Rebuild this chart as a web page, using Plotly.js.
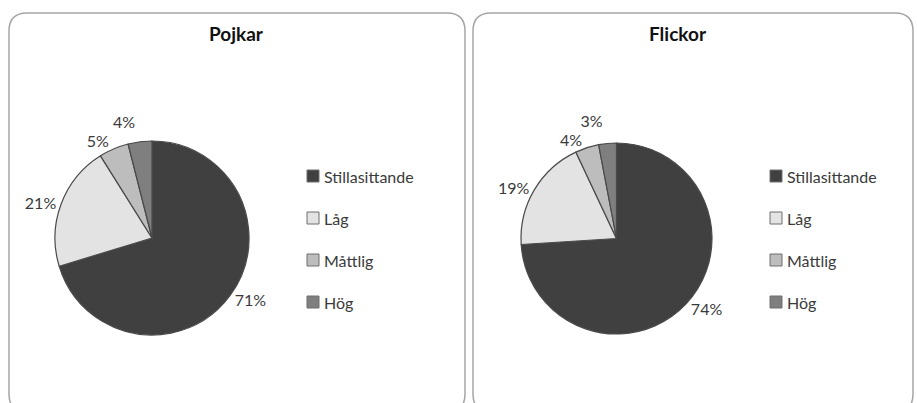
<!DOCTYPE html>
<html>
<head>
<meta charset="utf-8">
<script src="https://cdn.plot.ly/plotly-3.0.1.min.js"></script>
<style>html,body{margin:0;padding:0;background:#fff;}#chart{width:917px;height:403px;} .textline{display:none;}</style>
</head>
<body>
<div id="chart"></div>
<script>
// ---- data ----
const categories = ["Stillasittande", "Låg", "Måttlig", "Hög"];
const pojkarValues = [71, 21, 5, 4];
const flickorValues = [74, 19, 4, 3];
const panelTitles = ["Pojkar", "Flickor"];
const sliceColors = ["#404040", "#e3e3e3", "#bdbdbd", "#7f7f7f"];

// ---- layout helpers (pixel -> paper) ----
const W = 917, H = 403;
const px = x => x / W;
const py = y => 1 - y / H;

function roundRectPath(x0, y0, x1, y1, r) {
  const p = (x, y) => px(x) + "," + py(y);
  return "M" + p(x0 + r, y0) + " L" + p(x1 - r, y0) +
    " Q" + p(x1, y0) + " " + p(x1, y0 + r) +
    " L" + p(x1, y1 - r) + " Q" + p(x1, y1) + " " + p(x1 - r, y1) +
    " L" + p(x0 + r, y1) + " Q" + p(x0, y1) + " " + p(x0, y1 - r) +
    " L" + p(x0, y0 + r) + " Q" + p(x0, y0) + " " + p(x0 + r, y0) + " Z";
}

const panels = [
  { box: [9, 13, 465, 412], pie: [55, 141, 249, 335], title: [236, 33], legendX: 307, values: pojkarValues },
  { box: [473, 13, 913, 412], pie: [521, 143, 712, 334], title: [678, 33], legendX: 770, values: flickorValues }
];
const legendRowsY = [176, 218, 260, 302];

const traces = panels.map((pn, i) => ({
  type: "pie",
  values: pn.values,
  labels: categories,
  sort: false,
  direction: "clockwise",
  rotation: 0,
  domain: { x: [px(pn.pie[0]), px(pn.pie[2])], y: [py(pn.pie[3]), py(pn.pie[1])] },
  marker: { colors: sliceColors, line: { color: "#4a4a4a", width: 1.2 } },
  texttemplate: "%{value}%",
  textposition: "outside",
  outsidetextfont: { family: "Lato, 'Open Sans', sans-serif", size: 16, color: "#3a3a3a" },
  hoverinfo: "none",
  showlegend: false
}));

const shapes = [];
const annotations = [];
panels.forEach((pn, i) => {
  shapes.push({
    type: "path", xref: "paper", yref: "paper",
    path: roundRectPath(pn.box[0], pn.box[1], pn.box[2], pn.box[3], 18),
    line: { color: "#a6a6a6", width: 1.5 }, fillcolor: "rgba(0,0,0,0)", layer: "below"
  });
  annotations.push({
    xref: "paper", yref: "paper", x: px(pn.title[0]), y: py(pn.title[1]),
    text: "<b>" + panelTitles[i] + "</b>", showarrow: false,
    xanchor: "center", yanchor: "middle",
    font: { family: "Lato, 'Open Sans', sans-serif", size: 19, color: "#111111" }
  });
  categories.forEach((c, k) => {
    const yc = legendRowsY[k];
    shapes.push({
      type: "rect", xref: "paper", yref: "paper",
      x0: px(pn.legendX), x1: px(pn.legendX + 12),
      y0: py(yc + 6), y1: py(yc - 6),
      fillcolor: sliceColors[k], line: { color: "#6e6e6e", width: 1 }
    });
    annotations.push({
      xref: "paper", yref: "paper", x: px(pn.legendX + 15), y: py(yc),
      text: c, showarrow: false, xanchor: "left", yanchor: "middle",
      font: { family: "Lato, 'Open Sans', sans-serif", size: 16, color: "#3a3a3a" }
    });
  });
});

const layout = {
  width: W, height: H,
  margin: { l: 0, r: 0, t: 0, b: 0 },
  paper_bgcolor: "#ffffff",
  showlegend: false,
  shapes: shapes,
  annotations: annotations
};

Plotly.newPlot("chart", traces, layout, { displayModeBar: false, staticPlot: true });
</script>
</body>
</html>
